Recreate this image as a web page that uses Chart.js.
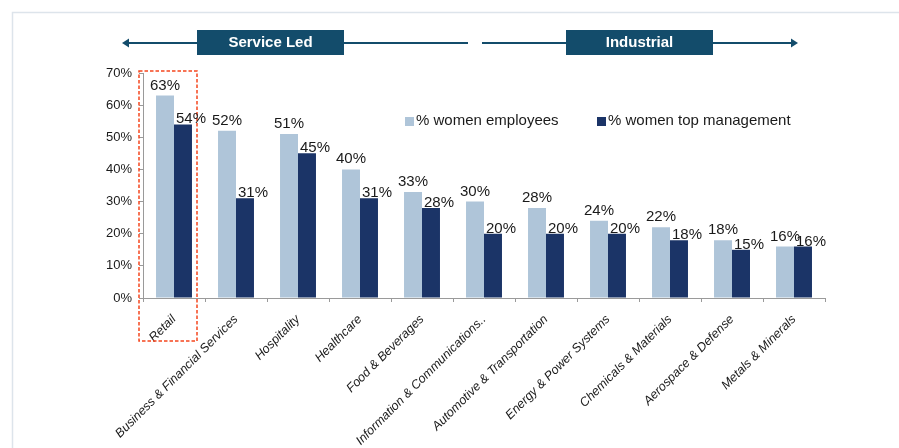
<!DOCTYPE html>
<html>
<head>
<meta charset="utf-8">
<script src="https://cdn.jsdelivr.net/npm/chart.js@4.4.1/dist/chart.umd.min.js"></script>
<style>
  html, body { margin: 0; padding: 0; background: #ffffff; }
  #wrap { position: relative; width: 899px; height: 448px; }
</style>
</head>
<body>
<div id="wrap"><canvas id="chart" width="899" height="448"></canvas></div>
<script>
// Sectors, ordered from service-led to industrial
const sectors = [
  'Retail',
  'Business & Financial Services',
  'Hospitality',
  'Healthcare',
  'Food & Beverages',
  'Information & Communications..',
  'Automotive & Transportation',
  'Energy & Power Systems',
  'Chemicals & Materials',
  'Aerospace & Defense',
  'Metals & Minerals'
];

// Share of women (%)
const womenEmployees = [63, 52, 51, 40, 33, 30, 28, 24, 22, 18, 16];
const womenTopManagement = [54, 31, 45, 31, 28, 20, 20, 20, 18, 15, 16];

const seriesNames = ['% women employees', '% women top management'];
const yTicks = [0, 10, 20, 30, 40, 50, 60, 70];
const groupHeadings = ['Service Led', 'Industrial'];

const FONT = '"Liberation Sans", Arial, Helvetica, sans-serif';
const TEXT = '#1a1a1a';
const LIGHT = '#afc5d9';
const DARK = '#1b3467';
const BANNER = '#134c6b';

// Frame, section banners, highlight box, legend and value labels
const decorations = {
  id: 'decorations',
  beforeDraw(chart) {
    const ctx = chart.ctx;
    ctx.save();
    ctx.strokeStyle = '#dde4eb';
    ctx.lineWidth = 1.5;
    ctx.strokeRect(12.5, 12.5, 1000, 1000);
    ctx.restore();
  },
  afterDatasetsDraw(chart) {
    const ctx = chart.ctx;
    const xs = chart.scales.x;
    const ys = chart.scales.y;
    ctx.save();

    // section banners with arrows
    const bannerY = 43;
    ctx.strokeStyle = BANNER;
    ctx.fillStyle = BANNER;
    ctx.lineWidth = 2;
    ctx.beginPath();
    ctx.moveTo(126, bannerY); ctx.lineTo(468, bannerY);
    ctx.moveTo(482, bannerY); ctx.lineTo(794, bannerY);
    ctx.stroke();
    // arrow heads
    ctx.beginPath();
    ctx.moveTo(122, bannerY); ctx.lineTo(129, bannerY - 4.5); ctx.lineTo(129, bannerY + 4.5); ctx.closePath();
    ctx.fill();
    ctx.beginPath();
    ctx.moveTo(798, bannerY); ctx.lineTo(791, bannerY - 4.5); ctx.lineTo(791, bannerY + 4.5); ctx.closePath();
    ctx.fill();
    const boxes = [[197, groupHeadings[0]], [566, groupHeadings[1]]];
    boxes.forEach(([bx, label]) => {
      ctx.fillStyle = BANNER;
      ctx.fillRect(bx, 30, 147, 25);
      ctx.fillStyle = '#ffffff';
      ctx.font = 'bold 15px ' + FONT;
      ctx.textAlign = 'center';
      ctx.textBaseline = 'middle';
      ctx.fillText(label, bx + 73.5, 43);
    });

    // dashed highlight around the first sector
    const c0 = xs.getPixelForValue(0);
    ctx.strokeStyle = 'rgb(245, 70, 30)';
    ctx.lineWidth = 1.5;
    ctx.setLineDash([3.5, 2]);
    ctx.strokeRect(Math.round(c0 - 35), Math.round(ys.top - 2), 58, 270);
    ctx.setLineDash([]);

    // legend
    ctx.font = '15px ' + FONT;
    ctx.textAlign = 'left';
    ctx.textBaseline = 'middle';
    const legendX = [405, 597];
    chart.data.datasets.forEach((ds, i) => {
      ctx.fillStyle = ds.backgroundColor;
      ctx.fillRect(legendX[i], 117, 9, 9);
      ctx.fillStyle = TEXT;
      ctx.fillText(ds.label, legendX[i] + 11, 121);
    });

    // value labels
    ctx.font = '15px ' + FONT;
    ctx.textAlign = 'center';
    ctx.textBaseline = 'alphabetic';
    ctx.fillStyle = TEXT;
    chart.data.datasets.forEach((ds, i) => {
      const meta = chart.getDatasetMeta(i);
      meta.data.forEach((bar, j) => {
        const dx = i === 0 ? 0 : 8;
        const dy = i === 0 ? 6 : 1;
        ctx.fillText(ds.data[j] + '%', bar.x + dx, bar.y - dy);
      });
    });
    ctx.restore();
  }
};

new Chart(document.getElementById('chart'), {
  type: 'bar',
  data: {
    labels: sectors,
    datasets: [
      { label: seriesNames[0], data: womenEmployees, backgroundColor: LIGHT },
      { label: seriesNames[1], data: womenTopManagement, backgroundColor: DARK }
    ]
  },
  options: {
    responsive: false,
    animation: false,
    devicePixelRatio: 1,
    layout: { padding: { top: 73, right: 74, left: 0, bottom: 0 } },
    datasets: { bar: { categoryPercentage: 0.58, barPercentage: 1.0 } },
    plugins: {
      legend: { display: false },
      tooltip: { enabled: false }
    },
    scales: {
      x: {
        grid: { display: true, drawOnChartArea: false, offset: true, color: '#9a9a9a', tickLength: 4 },
        border: { color: '#9a9a9a' },
        ticks: {
          autoSkip: false,
          maxRotation: 45,
          minRotation: 45,
          padding: 10,
          color: TEXT,
          font: { family: FONT, size: 12.5, style: 'italic' }
        },
        afterFit(scale) { scale.height = 150; }
      },
      y: {
        min: 0,
        max: 70,
        afterBuildTicks(scale) { scale.ticks = yTicks.map(v => ({ value: v })); },
        grid: { display: true, drawOnChartArea: false, color: '#9a9a9a', tickLength: 4 },
        border: { color: '#9a9a9a' },
        ticks: {
          padding: 7,
          color: TEXT,
          font: { family: FONT, size: 13 },
          callback: v => v + '%'
        },
        afterFit(scale) { scale.width = 143; }
      }
    }
  },
  plugins: [decorations]
});
</script>
</body>
</html>
